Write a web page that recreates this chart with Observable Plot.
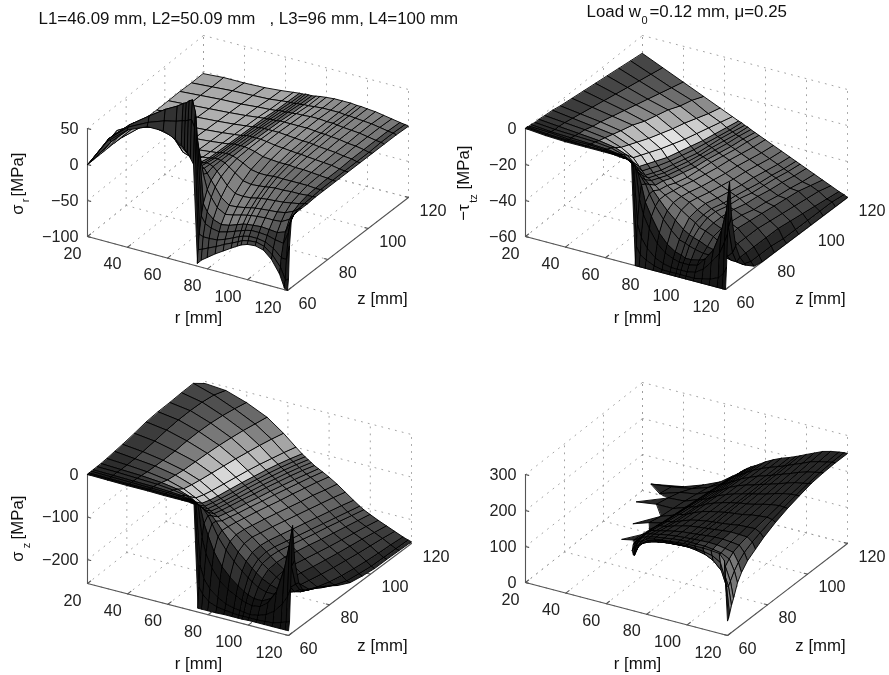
<!DOCTYPE html>
<html><head><meta charset="utf-8">
<script src="https://cdn.jsdelivr.net/npm/d3@7"></script>
<script src="https://cdn.jsdelivr.net/npm/@observablehq/plot@0.6"></script>
<style>html,body{margin:0;padding:0;background:#fff}svg{display:block;filter:blur(0.35px)}</style>
</head><body><div id="chart"></div>
<script>
const _ = null;
const rGrid = [20,30,40,50,58,64,67,68.5,70,71.5,73,75,77,80,84,88,92,95,97,100,104,108,112,116,118.5,120];
const zGrid = [60,60.5,61,62,63,65,67,70,74,78,84,90,96,102,108,114,120];
const rTicks = [20,40,60,80,100,120];
const zTicks = [60,80,100,120];

// sigma_r, one row per z
const sigmaR = [
[0,40,63,75,75,68,62,58,54,47,40,-96,-90,-84,-76,-69,-62,-57,-54,-51,-50,-53,-63,-80,-98,-100],
[0,42,66,80,88,92,95,96,98,100,90,-78,-76,-72,-67,-61,-56,-52,-49,-47,-46,-49,-58,-72,-88,-85],
[0,42,68,88,103,112,118,120,124,126,110,-58,-60,-60,-59,-55,-50,-46,-44,-42,-42,-44,-50,-60,-60,-40],
[0,35,62,82,95,98,95,92,88,84,70,-35,-44,-48,-50,-47,-43,-40,-38,-36,-36,-37,-40,-42,-25,-3],
[0,42,66,80,88,88,84,80,74,66,50,-20,-30,-38,-42,-40,-36,-33,-32,-31,-30,-31,-32,-28,-12,-2],
[0,44,60,68,62,42,34,30,26,22,15,-5,-14,-26,-32,-30,-27,-25,-24,-23,-22,-22,-21,-15,-5,-1],
[0,40,55,60,45,30,24,22,20,18,12,4,-4,-16,-24,-23,-21,-19,-18,-17,-16,-15,-13,-8,-3,-1],
[0,37,47,52,24,18,17,17,18,17,15,10,4,-6,-14,-15,-14,-12,-11,-10,-9,-8,-6,-4,-2,-1],
[0,30,36,30,12,13,14,15,16,16,15,13,9,3,-5,-7,-6,-5,-4,-3,-3,-2,-2,-1,-1,0],
[-1,22,26,12,10,12,13,14,15,15,15,14,12,8,2,0,0,1,1,1,1,1,1,0,0,0],
[-1,8,6,7,9,11,12,13,14,14,14,14,13,11,7,6,5,5,5,4,4,3,2,1,0,0],
[-1,1,4,6,8,10,11,12,13,13,13,13,13,12,10,9,8,7,7,6,5,4,3,1,0,0],
[-2,1,3,5,7,9,10,11,11,12,12,12,12,12,11,10,9,9,8,7,6,5,3,2,0,0],
[-2,0,2,4,6,8,9,9,10,10,10,11,11,11,11,11,10,9,9,8,7,5,4,2,0,0],
[-2,0,2,3,5,6,7,8,8,8,9,9,10,10,11,11,10,10,9,8,7,6,4,2,1,0],
[-3,-1,1,2,3,5,6,6,6,7,7,8,8,9,10,10,10,9,9,8,7,6,4,2,1,0],
[-3,-1,-1,0,2,4,5,5,6,6,6,7,8,9,10,10,10,9,9,8,7,5,3,1,0,-1]];

// -tau_rz, one column per r
const tauRZ = [
[0,0,0,-0.5,-0.5,-1,-1,-1.5,-2,-3,-4,-5,-6,-7,-8,-9,-10],
[-1,-1,-1,-1,-1.5,-2,-2,-2.5,-3.5,-4.5,-6,-7.5,-9,-10.5,-12,-13.5,-15],
[-1.5,-1.5,-1.5,-2,-2,-2.5,-3,-3.5,-5,-6,-8,-10,-12,-14,-16,-18,-20],
[-1.5,-1.5,-2,-2,-2.5,-3,-4,-5,-6.5,-8,-10,-13,-15,-17,-20,-22,-25],
[-1.5,-1.5,-2,-2.5,-3,-4,-5.5,-8,-10,-12,-15,-17.5,-20,-22,-24.5,-27,-29],
[-1.5,-2,-2,-3,-4,-6,-8,-12,-14,-16,-19,-21.5,-24,-26,-28,-30,-32],
[-2,-2,-2.5,-3.5,-5,-8,-11,-16,-18,-20,-23,-25,-27,-29,-30.5,-32,-33.5],
[-2,-2.5,-3,-4,-6,-10,-13,-18,-20,-22,-24.5,-26.5,-28.5,-30,-31.5,-33,-34],
[-2,-2.5,-3,-5,-7,-12,-15,-20,-22,-24,-26,-28,-30,-31,-32,-33.5,-35],
[-2.5,-3,-4,-6,-9,-14,-17,-21,-23,-25,-27,-29,-30.5,-31.5,-33,-34.5,-35.5],
[-3,-4,-5,-8,-11,-16,-19,-22,-24,-26,-28,-30,-31,-32.5,-34,-35,-36.5],
[-60,-50,-38,-25,-18,-19,-21,-24,-25,-27,-29,-31,-32,-33.5,-35,-36,-37.5],
[-60,-54,-45,-33,-27,-24,-24,-26,-27,-29,-31,-32,-33,-34.5,-36,-37,-38.5],
[-60,-56,-50,-40,-34,-30,-28,-28,-29,-30,-32,-33.5,-35,-36,-37.5,-39,-40],
[-60,-58,-54,-47,-42,-36,-33,-31,-31,-32,-34,-35.5,-37,-38,-39.5,-41,-42],
[-60,-59,-56,-51,-47,-41,-37,-34,-33,-34,-36,-37.5,-39,-40,-41.5,-43,-44],
[-60,-59,-57,-53,-50,-45,-41,-37,-36,-36,-38,-39.5,-41,-42,-43.5,-45,-46],
[-60,-59,-57,-54,-51,-46,-43,-39,-38,-38,-40,-41,-42.5,-44,-45,-46.5,-47.5],
[-60,-59,-57,-54,-52,-47,-44,-41,-39,-39,-41,-42,-44,-45,-46,-47.5,-48.5],
[-60,-59,-57,-54,-52,-48,-45,-42,-41,-41,-42,-44,-45,-46.5,-47.5,-49,-50],
[-60,-59,-56,-53,-51,-49,-47,-44,-43,-43,-44,-46,-47,-48.5,-49.5,-51,-52],
[-60,-58,-53,-48,-49,-49,-48,-47,-46,-45,-46,-47,-48,-49,-50,-52,-54],
[-60,-57,-48,-42,-46,-49,-50,-50,-49,-49,-49,-50,-51,-52,-53,-54,-56],
[-60,-55,-42,-30,-38,-47,-51,-53,-53,-53,-53,-53,-54,-55,-56,-57,-58],
[-60,-52,-35,-18,-28,-44,-51,-55,-57,-57,-57,-58,-58,-58,-58,-58,-59],
[-60,-48,-30,-2,-22,-40,-48,-55,-59,-60,-60,-60,-60,-60,-60,-60,-60]];

// sigma_z, one column per r
const sigmaZ = [
[0,0,0,0,0,0,0,1,3,5,9,14,16,16,17,17,-5],
[-1,-1,-1,-1,-1,-1,-2,-2,-2,0,3,7,9,9,7,2,-9],
[-2,-2,-2,-2,-2,-3,-4,-6,-7,-8,-8,-6,-6,-8,-12,-18,-25],
[-2,-2,-2,-3,-3,-5,-8,-13,-16,-19,-21,-23,-26,-30,-35,-41,-47],
[-3,-3,-3,-4,-5,-9,-14,-24,-29,-33,-38,-43,-48,-54,-60,-67,-75],
[-3,-3,-4,-5,-7,-14,-24,-38,-45,-50,-56,-62,-68,-75,-83,-91,-100],
[-3,-4,-4,-7,-10,-20,-33,-47,-54,-59,-65,-71,-78,-85,-93,-102,-112],
[-3,-4,-5,-8,-12,-24,-38,-52,-58,-63,-70,-76,-83,-90,-98,-107,-117],
[-3,-4,-5,-9,-14,-28,-42,-56,-62,-67,-74,-80,-87,-95,-103,-112,-122],
[-4,-5,-6,-11,-17,-32,-46,-60,-66,-71,-78,-85,-92,-100,-108,-117,-127],
[-5,-6,-8,-14,-21,-37,-50,-64,-70,-75,-82,-90,-97,-105,-113,-122,-132],
[-247,-200,-150,-90,-60,-48,-56,-69,-75,-81,-88,-96,-103,-111,-119,-128,-137],
[-247,-215,-180,-125,-85,-65,-66,-76,-81,-87,-94,-102,-109,-117,-125,-133,-142],
[-247,-228,-200,-155,-120,-92,-84,-86,-90,-95,-102,-110,-118,-125,-133,-141,-150],
[-247,-235,-215,-180,-150,-118,-105,-100,-102,-107,-114,-122,-130,-138,-145,-154,-162],
[-246,-238,-225,-195,-170,-140,-125,-116,-115,-120,-127,-135,-143,-151,-159,-167,-176],
[-246,-240,-230,-205,-185,-158,-142,-132,-130,-133,-141,-149,-157,-165,-173,-181,-190],
[-246,-241,-232,-212,-195,-170,-155,-144,-141,-144,-152,-160,-168,-176,-184,-192,-200],
[-246,-241,-234,-215,-200,-177,-163,-152,-149,-151,-159,-167,-175,-182,-190,-198,-206],
[-245,-241,-235,-218,-205,-186,-173,-162,-160,-162,-170,-177,-185,-192,-199,-206,-213],
[-245,-241,-232,-215,-205,-192,-182,-175,-173,-176,-183,-190,-197,-203,-209,-215,-222],
[-245,-240,-225,-200,-195,-192,-188,-186,-186,-189,-196,-202,-208,-213,-218,-224,-230],
[-245,-238,-212,-170,-175,-185,-190,-193,-197,-202,-209,-215,-220,-225,-229,-233,-238],
[-245,-232,-190,-110,-135,-165,-183,-194,-203,-212,-222,-229,-234,-238,-241,-243,-246],
[-245,-228,-170,-50,-105,-155,-175,-188,-198,-210,-226,-238,-243,-247,-248,-249,-250],
[-245,-225,-150,-5,-90,-150,-175,-185,-193,-205,-225,-240,-246,-250,-250,-251,-252]];

// fourth surface (no title on its axis), one column per r, gaps where nothing is drawn
const sigmaEq = [
[_,_,_,_,_,_,_,_,_,_,_,_,_,_,_,_,_],
[_,_,_,_,_,_,_,_,_,_,_,_,_,_,_,58,_],
[_,_,_,_,_,_,_,_,_,_,_,_,100,_,72,65,40],
[_,_,_,_,_,_,_,_,_,_,105,_,108,100,90,75,60],
[_,_,_,_,_,_,_,133,_,_,120,112,108,103,97,90,80],
[_,_,_,_,_,_,_,140,138,135,128,124,120,116,112,108,105],
[_,_,_,_,_,_,150,150,148,145,140,136,132,128,125,121,117],
[_,_,_,_,_,155,160,160,158,154,149,145,141,137,133,129,125],
[_,_,_,_,150,165,168,168,166,162,157,153,149,145,141,136,132],
[_,_,_,145,165,175,177,176,173,168,163,158,153,149,145,142,138],
[_,_,150,170,178,182,183,180,176,171,165,160,156,152,149,146,144],
[170,175,178,182,184,186,186,182,177,172,167,163,160,158,156,153,150],
[195,190,188,187,188,189,188,185,180,176,172,169,166,164,162,160,157],
[210,203,197,193,193,193,192,189,186,183,180,178,176,174,172,170,168],
[215,210,204,198,197,196,196,194,192,191,189,187,185,184,182,181,180],
[218,213,207,202,200,200,199,198,197,196,195,194,193,192,191,190,190],
[220,215,209,204,203,202,201,200,200,200,200,200,199,198,198,198,198],
[222,216,210,205,204,203,202,202,202,202,203,203,203,204,204,204,205],
[223,216,211,206,204,203,203,203,203,203,205,206,206,207,208,209,210],
[224,217,211,206,204,203,204,205,205,205,207,208,210,212,214,216,218],
[225,216,208,204,203,203,205,207,208,208,210,213,216,219,222,225,228],
[225,213,203,198,198,200,204,207,210,212,215,219,223,227,231,235,238],
[224,208,192,187,190,196,200,205,209,213,218,224,229,234,238,241,244],
[222,195,170,165,172,185,195,202,208,214,220,227,233,238,243,246,248],
[205,150,130,125,135,155,170,185,197,206,217,226,234,241,246,249,250],
[40,45,55,75,90,125,145,165,180,195,212,225,235,244,248,250,250]];

// grey levels of the surface cells, read by patch: rows by z band (low z first), columns by r band
const shadeREdges = [30,40,50,58,67,75,84,92,100,108,116];
const shadeZEdges = [63,67,72,84,96,108];
const greyR = [
[60,50,50,50,50,40,70,80,80,70,55,30],
[170,175,175,175,170,90,110,130,125,110,90,60],
[170,175,175,175,170,100,130,130,120,115,100,60],
[170,175,175,175,165,100,130,120,115,110,105,70],
[170,175,175,175,170,100,150,140,130,130,115,75],
[170,175,175,175,170,100,150,145,135,130,120,80],
[165,170,170,170,165,100,150,140,130,130,120,80]];
const greyT = [
[45,45,45,50,50,35,30,25,25,25,25,20],
[45,50,60,80,100,60,80,70,55,45,35,30],
[55,65,100,160,205,90,125,110,90,70,45,30],
[60,85,130,185,215,100,135,125,105,85,60,35],
[65,90,135,190,225,105,135,125,110,90,70,40],
[70,90,125,170,205,105,125,120,105,90,70,45],
[70,85,110,140,185,100,115,110,100,90,70,45]];
const greyZ = [
[35,35,35,40,40,30,25,20,20,20,20,20],
[40,45,55,70,90,55,65,50,35,30,25,25],
[45,60,90,150,200,85,110,85,60,40,30,25],
[55,75,115,170,205,95,120,100,80,55,40,30],
[60,80,125,180,215,105,125,115,95,70,50,35],
[65,85,120,160,185,105,115,105,90,70,55,40],
[70,80,105,130,165,100,105,100,85,70,60,40]];
const greyE = [
[40,40,40,40,40,40,40,40,40,50,80,130],
[40,40,40,40,40,40,40,40,40,60,90,120],
[40,40,40,40,40,40,40,40,40,40,60,80],
[40,40,40,40,40,40,40,40,40,40,40,50],
[40,40,40,40,40,40,40,40,40,40,40,40],
[40,40,40,40,40,40,40,40,40,40,40,40],
[40,40,40,40,40,40,40,40,40,40,40,40]];

const transpose = t => rGrid.map((_r, i) => zGrid.map((_z, j) => t[j][i]));

const panels = [
 {name:"sigmaR", table:transpose(sigmaR), grey:greyR, vDomain:[-100,50], vTicks:[-100,-50,0,50],
  A:[87,236],B:[287,290],C:[408,197],D:[203,143], top:128},
 {name:"tauRZ", table:tauRZ, grey:greyT, vDomain:[-60,0], vTicks:[-60,-40,-20,0],
  A:[525,236],B:[725,289],C:[847,197],D:[642,143], top:128},
 {name:"sigmaZ", table:sigmaZ, grey:greyZ, vDomain:[-256,0], vTicks:[-200,-100,0],
  A:[87,583],B:[288,635],C:[411,543],D:[205,490], top:474},
 {name:"sigmaEq", table:sigmaEq, grey:greyE, vDomain:[0,300], vTicks:[0,100,200,300],
  A:[525,582],B:[727,635],C:[847,543],D:[642,490], top:474}
];

// oblique view of the axes box, fixed by where its corners sit on the page
function projector(p){
  const [v0,v1]=p.vDomain, k=(p.A[1]-p.top)/(v1-v0);
  return (r,z,v)=>{
    const u=(r-20)/100, w=(z-60)/60;
    const bx=(1-u)*(1-w)*p.A[0]+u*(1-w)*p.B[0]+u*w*p.C[0]+(1-u)*w*p.D[0];
    const by=(1-u)*(1-w)*p.A[1]+u*(1-w)*p.B[1]+u*w*p.C[1]+(1-u)*w*p.D[1];
    return {x:bx,y:by-(v-v0)*k};
  };
}
const bin=(edges,x)=>{let i=0;while(i<edges.length&&x>=edges[i])i++;return i;};

const quads=[], dots=[], solid=[], tickText=[];
let id=0;
panels.forEach((p,pi)=>{
  const P=projector(p), [v0,v1]=p.vDomain, rMin=20,rMax=120,zMin=60,zMax=120;
  const seg=(arr,a,b)=>{id++;arr.push({...a,id},{...b,id});};
  for(const r of rTicks){
    seg(dots,P(r,zMin,v0),P(r,zMax,v0));
    seg(dots,P(r,zMax,v0),P(r,zMax,v1));
    seg(solid,P(r,zMin,v0),P(r,zMin+1.6,v0));
    const t=P(r,zMin,v0); tickText.push({x:t.x-6,y:t.y+17,t:String(r),a:"end"});
  }
  for(const z of zTicks){
    seg(dots,P(rMin,z,v0),P(rMax,z,v0));
    seg(dots,P(rMin,z,v0),P(rMin,z,v1));
    seg(solid,P(rMax,z,v0),P(rMax-1.6,z,v0));
    const t=P(rMax,z,v0); tickText.push({x:t.x+11,y:t.y+13,t:String(z),a:"start"});
  }
  for(const v of p.vTicks){
    seg(dots,P(rMin,zMin,v),P(rMin,zMax,v));
    seg(dots,P(rMin,zMax,v),P(rMax,zMax,v));
    seg(solid,P(rMin,zMin,v),P(rMin+1.6,zMin,v));
    const t=P(rMin,zMin,v); tickText.push({x:t.x-9,y:t.y,t:String(v).replace("-","\u2212"),a:"end"});
  }
  seg(solid,P(rMin,zMin,v0),P(rMax,zMin,v0));
  seg(solid,P(rMax,zMin,v0),P(rMax,zMax,v0));
  seg(solid,P(rMin,zMin,v0),P(rMin,zMin,v1));
  // surface, far cells first
  for(let j=zGrid.length-1;j>=1;j--){
    for(let i=0;i<rGrid.length-1;i++){
      const corners=[[i,j],[i+1,j],[i+1,j-1],[i,j-1]].filter(([a,b])=>p.table[a][b]!==null);
      if(corners.length<3) continue;
      const g=p.grey[bin(shadeZEdges,zGrid[j-1])][bin(shadeREdges,rGrid[i])];
      id++;
      for(const [a,b] of corners){
        quads.push({...P(rGrid[a],zGrid[b],p.table[a][b]),id,fill:`rgb(${g},${g},${g})`});
      }
    }
  }
});

const font="Liberation Sans, Helvetica, Arial, sans-serif";
const plot=Plot.plot({
  width:889,height:675,margin:0,
  x:{domain:[0,889],range:[0,889],axis:null},
  y:{domain:[0,675],range:[0,675],axis:null},
  style:{background:"white",fontFamily:font},
  marks:[
    Plot.line(dots,{x:"x",y:"y",z:"id",stroke:"#999",strokeWidth:0.9,strokeDasharray:"1,6"}),
    Plot.line(solid,{x:"x",y:"y",z:"id",stroke:"#555",strokeWidth:1.1}),
    Plot.line(quads,{x:"x",y:"y",z:"id",fill:"fill",stroke:"#000",strokeWidth:0.9,curve:"linear-closed"}),
    Plot.text(tickText.filter(d=>d.a==="end"),{x:"x",y:"y",text:"t",textAnchor:"end",fontSize:16.2,fill:"#222"}),
    Plot.text(tickText.filter(d=>d.a==="start"),{x:"x",y:"y",text:"t",textAnchor:"start",fontSize:16.2,fill:"#222"}),
    Plot.text(["L1=46.09 mm, L2=50.09 mm   , L3=96 mm, L4=100 mm"],{x:[38],y:[18],text:d=>d,textAnchor:"start",fontSize:16.9,fill:"#111"}),
    Plot.text(["Load w"],{x:[586],y:[11],text:d=>d,textAnchor:"start",fontSize:16.9,fill:"#111"}),
    Plot.text(["0"],{x:[644],y:[20],text:d=>d,fontSize:11,fill:"#111"}),
    Plot.text(["=0.12 mm, \u03bc=0.25"],{x:[649],y:[11],text:d=>d,textAnchor:"start",fontSize:16.9,fill:"#111"}),
    Plot.text(["r [mm]","r [mm]","r [mm]","r [mm]"],{x:[198,637,198,637],y:[317,317,663,663],text:d=>d,fontSize:16.8,fill:"#111"}),
    Plot.text(["z [mm]","z [mm]","z [mm]","z [mm]"],{x:[382,820,382,820],y:[298,298,645,645],text:d=>d,fontSize:16.8,fill:"#111"}),
    Plot.text(["\u03c3","[MPa]","\u2212\u03c4","[MPa]","\u03c3","[MPa]"],{x:[17,17,463,463,17,17],y:[209,174,212,167,556,517],text:d=>d,rotate:-90,fontSize:16.8,fill:"#111"}),
    Plot.text(["r","tz","z"],{x:[25,473,26],y:[200,198,545],text:d=>d,rotate:-90,fontSize:11,fill:"#111"})
  ]
});
document.getElementById("chart").append(plot);
</script>
</body></html>
